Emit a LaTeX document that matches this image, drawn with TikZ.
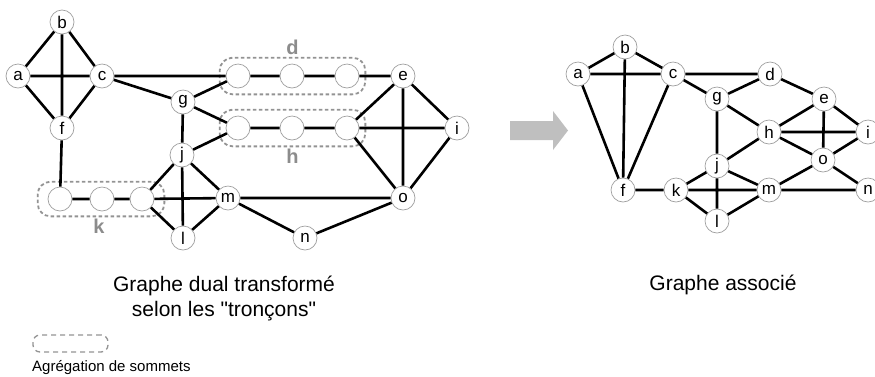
\documentclass[tikz,border=0pt]{standalone}
\usepackage{fontspec}
\setmainfont{Liberation Sans}[Ligatures=TeXOff]
\usepackage{tikz}
\usetikzlibrary{positioning, fit}

\begin{document}
\begin{tikzpicture}[
    x=1pt, y=-1pt,
    font=\fontsize{17}{17}\selectfont,
    % Node styles
    vertex/.style={circle, draw=gray!75, line width=0.7pt, fill=white, minimum size=24pt, inner sep=0pt},
    edge/.style={line width=2.6pt, black},
    aggbox/.style={draw=gray!85, dash pattern=on 3.5pt off 2.5pt, line width=1.8pt, rounded corners=13pt, inner sep=6pt},
    agglabel/.style={font=\fontsize{20}{20}\selectfont\bfseries, text=gray!90, inner sep=1pt},
    legendbox/.style={draw=gray!85, dash pattern=on 5pt off 4pt, line width=1.3pt, rounded corners=7pt, minimum width=75pt, minimum height=17pt, inner sep=0pt},
    title/.style={font=\fontsize{21}{25}\selectfont, align=center}
]
\useasboundingbox (0,0) rectangle (875,376);
\clip (0,0) rectangle (875,376);

% ========== DUAL GRAPH ==========
\node[vertex] (a) at (18,76) {a};
\node[vertex] (b) at (62,22) {b};
\node[vertex] (c) at (102,76) {c};
\node[vertex] (f) at (62,128) {f};
\node[vertex] (g) at (183,102) {g};
\node[vertex] (j) at (182,155) {j};
\node[vertex] (l) at (183,238) {l};
\node[vertex] (m) at (228,198) {m};
\node[vertex] (n) at (305,238) {n};
\node[vertex] (o) at (403,198) {o};
\node[vertex] (e) at (403,76) {e};
\node[vertex] (i) at (457,128) {i};

% Segment vertices (aggregated)
\node[vertex] (d1) at (238,76) {};
\node[vertex] (d2) at (292,76) {};
\node[vertex] (d3) at (347,76) {};
\node[vertex] (h1) at (238,128) {};
\node[vertex] (h2) at (292,128) {};
\node[vertex] (h3) at (347,128) {};
\node[vertex] (k1) at (60,199) {};
\node[vertex] (k2) at (102,199) {};
\node[vertex] (k3) at (142,199) {};

% Aggregation boxes
\node[aggbox, fit=(d1) (d3)] (dagg) {};
\node[aggbox, fit=(h1) (h3)] (hagg) {};
\node[aggbox, fit=(k1) (k3), inner xsep=10pt, inner ysep=5pt] (kagg) {};
\node[agglabel, above=1pt of dagg.north] (dlabel) {d};
\node[agglabel, below=1pt of hagg.south] (hlabel) {h};
\node[agglabel, below=1pt of kagg.south, xshift=-2pt] (klabel) {k};

% Edges
\draw[edge] (a) -- (b) (b) -- (c) (a) -- (c) (a) -- (f) (c) -- (f) (b) -- (f);
\draw[edge] (c) -- (d1) (d1) -- (d2) (d2) -- (d3) (d3) -- (e) (c) -- (g) (g) -- (d1);
\draw[edge] (g) -- (h1) (h1) -- (h2) (h2) -- (h3) (h3) -- (i) (j) -- (h1);
\draw[edge] (g) -- (j) (j) -- (l) (j) -- (k3) (j) -- (m);
\draw[edge] (f) -- (k1) (k1) -- (k2) (k2) -- (k3) (k3) -- (m) (k3) -- (l) (l) -- (m);
\draw[edge] (m) -- (o) (m) -- (n) (n) -- (o);
\draw[edge] (e) -- (o) (e) -- (i) (h3) -- (e) (h3) -- (o) (i) -- (o);

% ========== TRANSFORMATION ARROW ==========
\fill[gray!50] (510,121) -- (553,121) -- (553,111) -- (568,130.5) -- (553,150) -- (553,140) -- (510,140) -- cycle;

% ========== ASSOCIATED GRAPH ==========
\node[vertex] (ra) at (578,74) {a};
\node[vertex] (rb) at (625,47) {b};
\node[vertex] (rc) at (673,74) {c};
\node[vertex] (rd) at (770,74) {d};
\node[vertex] (rg) at (717,99) {g};
\node[vertex] (re) at (824,99) {e};
\node[vertex] (rh) at (769,132) {h};
\node[vertex] (ri) at (868,132) {i};
\node[vertex] (ro) at (823,160) {o};
\node[vertex] (rj) at (717,166) {j};
\node[vertex] (rf) at (623,190) {f};
\node[vertex] (rk) at (676,190) {k};
\node[vertex] (rm) at (769,190) {m};
\node[vertex] (rn) at (868,190) {n};
\node[vertex] (rl) at (717,221) {l};

\draw[edge] (ra) -- (rb) (rb) -- (rc) (ra) -- (rc) (ra) -- (rf) (rb) -- (rf) (rc) -- (rf);
\draw[edge] (rc) -- (rd) (rc) -- (rg) (rg) -- (rd) (rd) -- (re) (rg) -- (rh) (rg) -- (rj);
\draw[edge] (re) -- (rh) (re) -- (ri) (re) -- (ro) (rh) -- (ri) (rh) -- (ro) (rh) -- (rj);
\draw[edge] (ro) -- (ri) (ro) -- (rm) (ro) -- (rn);
\draw[edge] (rj) -- (rk) (rj) -- (rm) (rj) -- (rl) (rf) -- (rk) (rk) -- (rm) (rk) -- (rl) (rl) -- (rm) (rm) -- (rn);

% ========== CAPTIONS ==========
\node[title] (dualtitle) at (224,298) {Graphe dual transformé\\selon les "tronçons"};
\node[title] (assoctitle) at (723,285) {Graphe associé};

% Legend
\node[legendbox] (legbox) at (70.5,343.5) {};
\node[anchor=west, font=\fontsize{15}{15}\selectfont, inner sep=0pt] (legtext) at (32,368) {Agrégation de sommets};

\end{tikzpicture}
\end{document}
